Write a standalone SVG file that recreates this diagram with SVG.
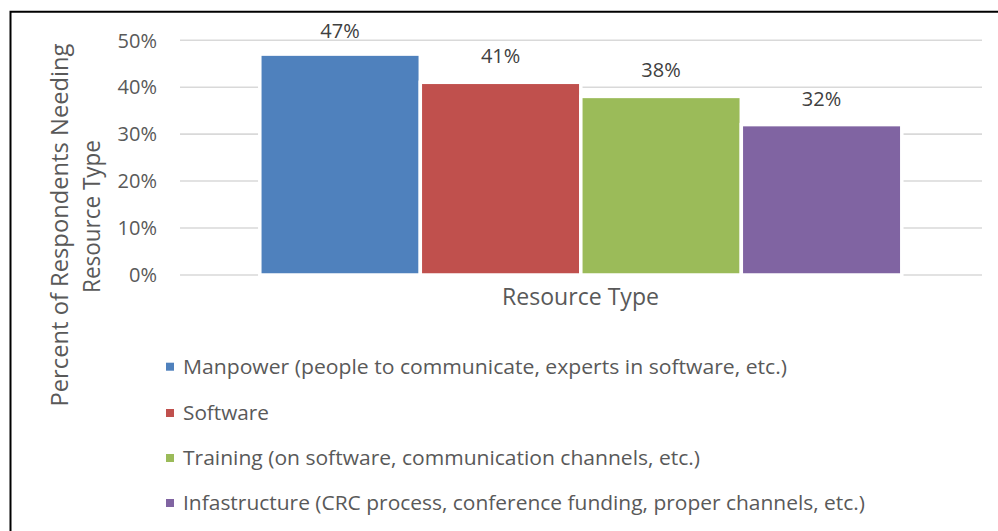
<svg xmlns="http://www.w3.org/2000/svg" width="998" height="531" viewBox="0 0 998 531">
<style>
  text { font-family: "Open Sans", "Liberation Sans", sans-serif; fill: #595959; }
  .tick { font-size: 20px; text-anchor: end; }
  .dlab { font-size: 20px; text-anchor: middle; fill: #404040; }
  .title { font-size: 24px; text-anchor: middle; }
  .leg { font-size: 20.5px; }
  .grid { stroke: #D9D9D9; stroke-width: 1.6; }
  .bar { stroke: #FFFFFF; stroke-width: 3.5; }
</style>
<rect x="0" y="0" width="998" height="531" fill="#FFFFFF"/>
<path d="M10.5,531 V11.8 H998" fill="none" stroke="#000000" stroke-width="2"/>
<g id="gridlines">
  <line class="grid" x1="180" y1="40.3" x2="982" y2="40.3"/>
  <line class="grid" x1="180" y1="87.2" x2="982" y2="87.2"/>
  <line class="grid" x1="180" y1="134.1" x2="982" y2="134.1"/>
  <line class="grid" x1="180" y1="181" x2="982" y2="181"/>
  <line class="grid" x1="180" y1="228" x2="982" y2="228"/>
  <line class="grid" x1="180" y1="275" x2="982" y2="275"/>
</g>
<g id="y-ticks">
  <text class="tick" x="157" y="47.5">50%</text>
  <text class="tick" x="157" y="94.4">40%</text>
  <text class="tick" x="157" y="141.3">30%</text>
  <text class="tick" x="157" y="188.2">20%</text>
  <text class="tick" x="157" y="235.2">10%</text>
  <text class="tick" x="157" y="282.2">0%</text>
</g>
<g id="bar-manpower">
  <rect class="bar" x="259.8" y="54.1" width="160.5" height="220.9" fill="#4F81BD"/>
  <text class="dlab" x="340" y="38">47%</text>
</g>
<g id="bar-software">
  <rect class="bar" x="420.3" y="82.3" width="160.5" height="192.7" fill="#C0504D"/>
  <text class="dlab" x="500.6" y="63">41%</text>
</g>
<g id="bar-training">
  <rect class="bar" x="580.8" y="96.4" width="160.5" height="178.6" fill="#9BBB59"/>
  <text class="dlab" x="661" y="77">38%</text>
</g>
<g id="bar-infrastructure">
  <rect class="bar" x="741.3" y="124.6" width="160.5" height="150.4" fill="#8064A2"/>
  <text class="dlab" x="821.5" y="106">32%</text>
</g>
<g id="axis-titles">
  <text class="title" x="580.5" y="305" textLength="157" lengthAdjust="spacingAndGlyphs">Resource Type</text>
  <text class="title" transform="translate(67.5,225) rotate(-90)" x="0" y="0" textLength="363" lengthAdjust="spacingAndGlyphs">Percent of Respondents Needing</text>
  <text class="title" transform="translate(99.7,216.5) rotate(-90)" x="0" y="0" textLength="153" lengthAdjust="spacingAndGlyphs">Resource Type</text>
</g>
<g id="legend">
  <rect x="166" y="362.7" width="8" height="8" fill="#4F81BD"/>
  <text class="leg" x="183" y="373.5" textLength="604" lengthAdjust="spacingAndGlyphs">Manpower (people to communicate, experts in software, etc.)</text>
  <rect x="166" y="409" width="8" height="8" fill="#C0504D"/>
  <text class="leg" x="183" y="419.5" textLength="86" lengthAdjust="spacingAndGlyphs">Software</text>
  <rect x="166" y="454" width="8" height="8" fill="#9BBB59"/>
  <text class="leg" x="183" y="464.5" textLength="517" lengthAdjust="spacingAndGlyphs">Training (on software, communication channels, etc.)</text>
  <rect x="166" y="499" width="8" height="8" fill="#8064A2"/>
  <text class="leg" x="183" y="509.5" textLength="682" lengthAdjust="spacingAndGlyphs">Infastructure (CRC process, conference funding, proper channels, etc.)</text>
</g>
</svg>
